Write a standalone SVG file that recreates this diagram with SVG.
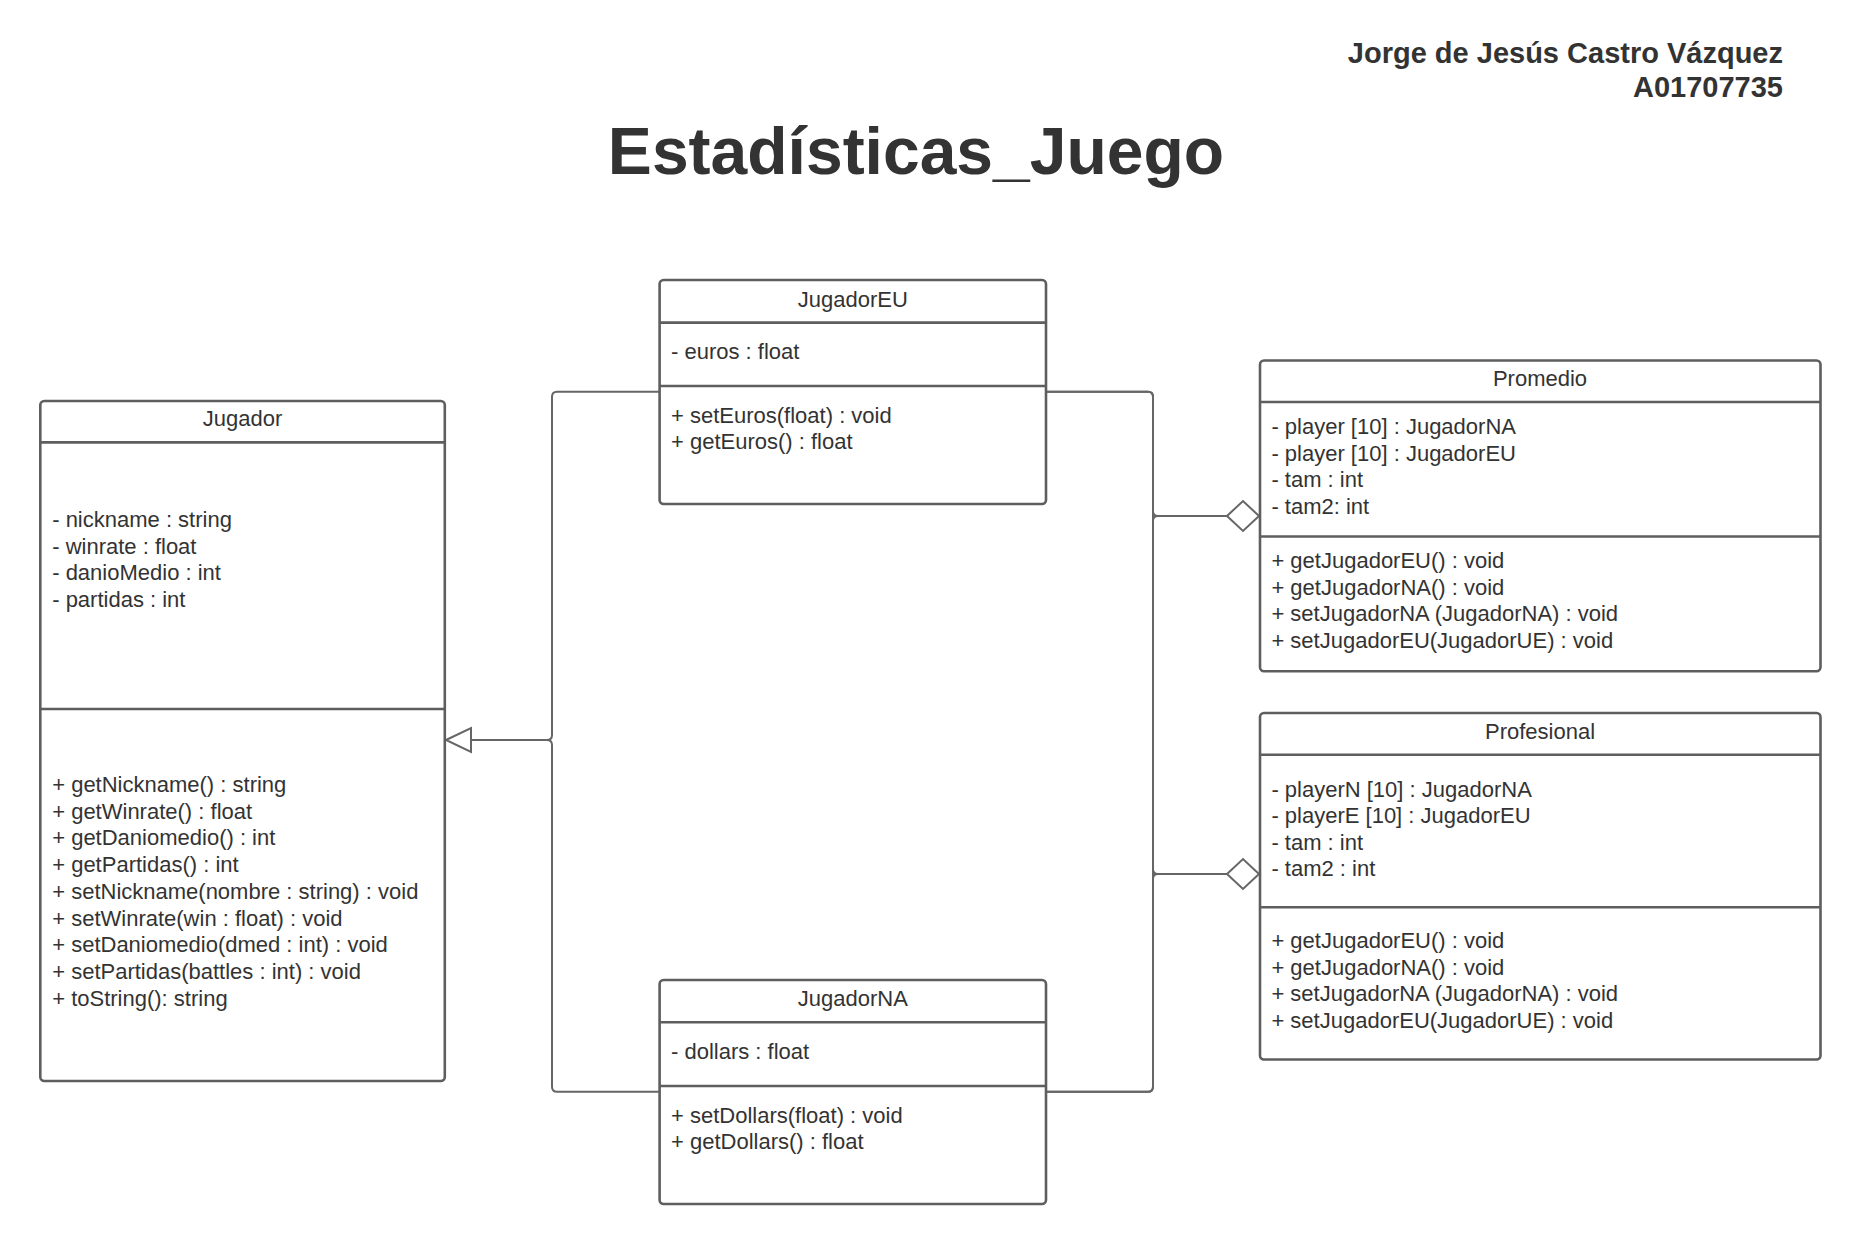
<svg xmlns="http://www.w3.org/2000/svg" width="1860" height="1244" viewBox="0 0 1860 1244">
<style>
.box{fill:#ffffff;stroke:#5e5e5e;stroke-width:2.6}
.div{stroke:#5e5e5e;stroke-width:2.6}
.t{font-family:"Liberation Sans",Arial,sans-serif;font-size:22px;fill:#333333}
.c{text-anchor:middle}
.conn{fill:none;stroke:#666666;stroke-width:2}
.head{fill:#ffffff;stroke:#666666;stroke-width:2}
.big{font-family:"Liberation Sans",Arial,sans-serif;font-weight:bold;fill:#333333}
</style>
<rect width="1860" height="1244" fill="#ffffff"/>
<g id="header">
<text class="big" x="1783" y="63" font-size="29" text-anchor="end">Jorge de Jesús Castro Vázquez</text>
<text class="big" x="1783" y="97" font-size="29" text-anchor="end">A01707735</text>
<text class="big" x="916" y="174" font-size="66" text-anchor="middle">Estadísticas_Juego</text>
</g>
<g id="connectors">
<path class="conn" d="M659.6 391.7 H557 Q552 391.7 552 396.7 V735 Q552 740 547 740 H471"/>
<path class="conn" d="M659.6 1091.7 H557 Q552 1091.7 552 1086.7 V745 Q552 740 547 740"/>
<polygon class="head" points="446,740 471,728 471,752"/>
<path class="conn" d="M1046 391.7 H1148 Q1153 391.7 1153 396.7 V511 Q1153 516 1158 516 H1227"/>
<path class="conn" d="M1046 391.7 H1148 Q1153 391.7 1153 396.7 V869 Q1153 874 1158 874 H1227"/>
<path class="conn" d="M1046 1091.7 H1148 Q1153 1091.7 1153 1086.7 V879 Q1153 874 1158 874 H1227"/>
<path class="conn" d="M1046 1091.7 H1148 Q1153 1091.7 1153 1086.7 V521 Q1153 516 1158 516 H1227"/>
<polygon class="head" points="1227,516 1243,501 1259,516 1243,531"/>
<polygon class="head" points="1227,874 1243,859 1259,874 1243,889"/>
</g>
<g id="Jugador">
<rect class="box" x="40.3" y="401" width="404.5" height="680" rx="4"/>
<line class="div" x1="40.3" y1="442.4" x2="444.8" y2="442.4"/>
<line class="div" x1="40.3" y1="709" x2="444.8" y2="709"/>
<text class="t c" x="242.5" y="426">Jugador</text>
<text class="t" x="52.2" y="527">- nickname : string</text>
<text class="t" x="52.2" y="553.7">- winrate : float</text>
<text class="t" x="52.2" y="580.4">- danioMedio : int</text>
<text class="t" x="52.2" y="607.1">- partidas : int</text>
<text class="t" x="52.2" y="792">+ getNickname() : string</text>
<text class="t" x="52.2" y="818.7">+ getWinrate() : float</text>
<text class="t" x="52.2" y="845.4">+ getDaniomedio() : int</text>
<text class="t" x="52.2" y="872.1">+ getPartidas() : int</text>
<text class="t" x="52.2" y="898.8">+ setNickname(nombre : string) : void</text>
<text class="t" x="52.2" y="925.5">+ setWinrate(win : float) : void</text>
<text class="t" x="52.2" y="952.2">+ setDaniomedio(dmed : int) : void</text>
<text class="t" x="52.2" y="978.9">+ setPartidas(battles : int) : void</text>
<text class="t" x="52.2" y="1005.6">+ toString(): string</text>
</g>
<g id="JugadorEU">
<rect class="box" x="659.6" y="280" width="386.4" height="224" rx="4"/>
<line class="div" x1="659.6" y1="322.6" x2="1046" y2="322.6"/>
<line class="div" x1="659.6" y1="386" x2="1046" y2="386"/>
<text class="t c" x="852.8" y="306.5">JugadorEU</text>
<text class="t" x="671" y="358.5">- euros : float</text>
<text class="t" x="671" y="422.5">+ setEuros(float) : void</text>
<text class="t" x="671" y="449.2">+ getEuros() : float</text>
</g>
<g id="JugadorNA">
<rect class="box" x="659.6" y="980" width="386.4" height="224" rx="4"/>
<line class="div" x1="659.6" y1="1022.3" x2="1046" y2="1022.3"/>
<line class="div" x1="659.6" y1="1086" x2="1046" y2="1086"/>
<text class="t c" x="852.8" y="1006">JugadorNA</text>
<text class="t" x="671" y="1058.5">- dollars : float</text>
<text class="t" x="671" y="1122.5">+ setDollars(float) : void</text>
<text class="t" x="671" y="1149.2">+ getDollars() : float</text>
</g>
<g id="Promedio">
<rect class="box" x="1260" y="360.5" width="560.5" height="310.8" rx="4"/>
<line class="div" x1="1260" y1="402" x2="1820.5" y2="402"/>
<line class="div" x1="1260" y1="536.5" x2="1820.5" y2="536.5"/>
<text class="t c" x="1540" y="385.5">Promedio</text>
<text class="t" x="1271.4" y="434">- player [10] : JugadorNA</text>
<text class="t" x="1271.4" y="460.5">- player [10] : JugadorEU</text>
<text class="t" x="1271.4" y="487">- tam : int</text>
<text class="t" x="1271.4" y="513.5">- tam2: int</text>
<text class="t" x="1271.4" y="568">+ getJugadorEU() : void</text>
<text class="t" x="1271.4" y="594.7">+ getJugadorNA() : void</text>
<text class="t" x="1271.4" y="621.4">+ setJugadorNA (JugadorNA) : void</text>
<text class="t" x="1271.4" y="648">+ setJugadorEU(JugadorUE) : void</text>
</g>
<g id="Profesional">
<rect class="box" x="1260" y="713" width="560.5" height="346.5" rx="4"/>
<line class="div" x1="1260" y1="754.8" x2="1820.5" y2="754.8"/>
<line class="div" x1="1260" y1="907.3" x2="1820.5" y2="907.3"/>
<text class="t c" x="1540" y="739">Profesional</text>
<text class="t" x="1271.4" y="796.5">- playerN [10] : JugadorNA</text>
<text class="t" x="1271.4" y="823">- playerE [10] : JugadorEU</text>
<text class="t" x="1271.4" y="849.5">- tam : int</text>
<text class="t" x="1271.4" y="876">- tam2 : int</text>
<text class="t" x="1271.4" y="948">+ getJugadorEU() : void</text>
<text class="t" x="1271.4" y="974.7">+ getJugadorNA() : void</text>
<text class="t" x="1271.4" y="1001.4">+ setJugadorNA (JugadorNA) : void</text>
<text class="t" x="1271.4" y="1028">+ setJugadorEU(JugadorUE) : void</text>
</g>
</svg>
